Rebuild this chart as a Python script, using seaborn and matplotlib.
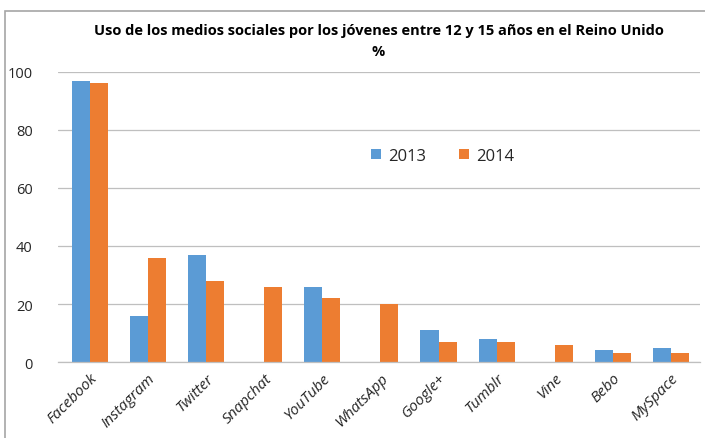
import matplotlib
matplotlib.use("Agg")
import matplotlib.pyplot as plt
import seaborn as sns
import pandas as pd
import numpy as np
from matplotlib.patches import Rectangle

platforms = ["Facebook", "Instagram", "Twitter", "Snapchat", "YouTube", "WhatsApp",
             "Google+", "Tumblr", "Vine", "Bebo", "MySpace"]
values_2013 = [97, 16, 37, np.nan, 26, np.nan, 11, 8, np.nan, 4, 5]
values_2014 = [96, 36, 28, 26, 22, 20, 7, 7, 6, 3, 3]
years = ["2013", "2014"]
y_ticks = [0, 20, 40, 60, 80, 100]

df = pd.DataFrame({
    "Plataforma": platforms * 2,
    "Año": [years[0]] * len(platforms) + [years[1]] * len(platforms),
    "Valor": values_2013 + values_2014,
})

sns.set_style("white")
plt.rcParams["font.family"] = ["Open Sans", "DejaVu Sans"]

fig = plt.figure(figsize=(7.05, 4.39), dpi=100)
ax = fig.add_axes([0.082, 0.173, 0.911, 0.661])

sns.barplot(data=df, x="Plataforma", y="Valor", hue="Año", order=platforms,
            hue_order=years, palette=["#5B9BD5", "#ED7D31"], width=0.62,
            saturation=1, linewidth=0, edgecolor="none", ax=ax, legend=True)

ax.set_ylim(0, 100)
ax.set_xlim(-0.55, len(platforms) - 0.5)
ax.set_yticks(y_ticks)
ax.set_yticklabels([str(v) for v in y_ticks], fontsize=10.5, color="#262626")
ax.yaxis.grid(True, color="#BFBFBF", linewidth=0.9)
ax.set_axisbelow(True)
ax.tick_params(axis="y", length=0, pad=18)
ax.set_xlabel("")
ax.set_ylabel("")
for s in ["top", "right", "left"]:
    ax.spines[s].set_visible(False)
ax.spines["bottom"].set_color("#BFBFBF")
ax.spines["bottom"].set_linewidth(0.9)

ax.set_xticks(range(len(platforms)))
ax.set_xticklabels(platforms, rotation=45, ha="right", rotation_mode="anchor",
                   fontsize=11, style="italic", color="#262626")
ax.tick_params(axis="x", which="major", length=0, pad=6)
ax.set_xticks(np.arange(-0.5, len(platforms), 1.0), minor=True)
ax.tick_params(axis="x", which="minor", length=4, color="#BFBFBF", width=0.9)

leg = ax.legend(loc="upper left", bbox_to_anchor=(0.465, 0.79), ncol=2, frameon=False,
                fontsize=12, handlelength=0.6, handleheight=0.6, columnspacing=2.0,
                handletextpad=0.4)

fig.text(0.537, 0.93, "Uso de los medios sociales por los jóvenes entre 12 y 15 años en el Reino Unido",
         ha="center", va="center", fontsize=10.5, fontweight="bold", color="#000000")
fig.text(0.537, 0.882, "%", ha="center", va="center", fontsize=10.5, fontweight="bold", color="#000000")

fig.patches.append(Rectangle((5 / 705, -0.01), 1.0, 1 - 12 / 439 + 0.01, transform=fig.transFigure,
                             fill=False, edgecolor="#A6A6A6", linewidth=1.2))

fig.savefig("out.png", dpi=100)
